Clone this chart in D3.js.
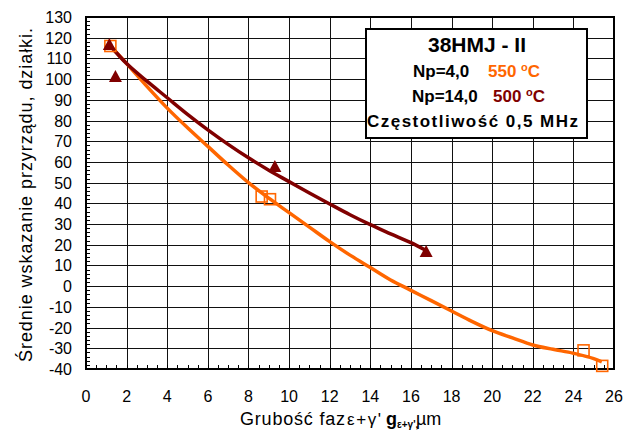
<!DOCTYPE html>
<html><head><meta charset="utf-8">
<script src="https://cdn.jsdelivr.net/npm/d3@7"></script>
<style>body{margin:0;background:#fff}svg{display:block}text{font-family:"Liberation Sans",Arial,sans-serif}</style>
</head><body>
<script>
// ---- data ----
const xTickLabels = ["0","2","4","6","8","10","12","14","16","18","20","22","24","26"];
const yTickLabels = ["130","120","110","100","90","80","70","60","50","40","30","20","10","0","-10","-20","-30","-40"];
const orangeLineX = [1.2,2,3,4,5,6,7,8,9,10,11,12,13,14,15,16,17,18,19,20,21,22,23,24,25,25.4];
const orangeLineY = [116,107.5,96.5,86,76.5,67.5,58.5,50,42.5,35.5,28.5,21.5,15,9,3,-2,-7,-12,-17,-21.5,-25,-28.4,-30.5,-32.4,-35,-36.5];
const redLineX = [1.2,2,3,4,5,6,7,8,9,10,11,12,13,14,15,16,16.7];
const redLineY = [116,107.5,99,91,83,75.5,68.5,62,56,50.5,45,39.7,34.5,29.7,25.3,21,17.5];
const squareX = [1.2,8.65,9.06,24.5,25.42];
const squareY = [116,43.3,42,-31,-38.5];
const triangleX = [1.15,1.45,9.3,16.75];
const triangleY = [116.5,101,57.5,16.5];
const ORANGE = "#FF6600", DARKRED = "#800000";

const W=626,H=432;
const svg=d3.select("body").append("svg").attr("width",W).attr("height",H);
const x=d3.scaleLinear().domain([0,26]).range([86,614]);
const y=d3.scaleLinear().domain([-40,130]).range([369,17]);

// grid
const g=svg.append("g");
g.selectAll(".vg").data(xTickLabels.map(Number)).enter().append("line")
 .attr("x1",d=>Math.round(x(d))+0.5).attr("x2",d=>Math.round(x(d))+0.5)
 .attr("y1",y(130)).attr("y2",y(-40)).attr("stroke","#111").attr("stroke-width",1);
g.selectAll(".hg").data(yTickLabels.map(Number)).enter().append("line")
 .attr("y1",d=>Math.round(y(d))+0.5).attr("y2",d=>Math.round(y(d))+0.5)
 .attr("x1",x(0)).attr("x2",x(26)).attr("stroke","#111").attr("stroke-width",1);

// minor ticks
g.selectAll(".ym").data(d3.range(-40,130.1,2)).enter().append("line")
 .attr("x1",x(0)).attr("x2",x(0)+4).attr("y1",d=>Math.round(y(d))+0.5).attr("y2",d=>Math.round(y(d))+0.5)
 .attr("stroke","#000");
g.selectAll(".xm").data(d3.range(0,26.01,0.5)).enter().append("line")
 .attr("y1",y(-40)).attr("y2",y(-40)-4).attr("x1",d=>Math.round(x(d))+0.5).attr("x2",d=>Math.round(x(d))+0.5)
 .attr("stroke","#000");

// frame
svg.append("rect").attr("x",x(0)).attr("y",y(130)).attr("width",x(26)-x(0)).attr("height",y(-40)-y(130))
 .attr("fill","none").attr("stroke","#000").attr("stroke-width",2);

// axis labels
svg.selectAll(".yl").data(yTickLabels).enter().append("text")
 .attr("x",72).attr("y",d=>y(+d)+6).attr("text-anchor","end").attr("font-size",16).text(d=>d);
svg.selectAll(".xl").data(xTickLabels).enter().append("text")
 .attr("x",d=>x(+d)).attr("y",402).attr("text-anchor","middle").attr("font-size",16).text(d=>d);

// lines
const line=d3.line().x(d=>x(d[0])).y(d=>y(d[1])).curve(d3.curveMonotoneX);
svg.append("path").datum(orangeLineX.map((v,i)=>[v,orangeLineY[i]])).attr("d",line)
 .attr("fill","none").attr("stroke",ORANGE).attr("stroke-width",3.5).attr("stroke-linejoin","round");
svg.append("path").datum(redLineX.map((v,i)=>[v,redLineY[i]])).attr("d",line)
 .attr("fill","none").attr("stroke",DARKRED).attr("stroke-width",3.5).attr("stroke-linejoin","round");

// squares
svg.selectAll(".sq").data(squareX.map((v,i)=>[v,squareY[i]])).enter().append("rect")
 .attr("x",d=>x(d[0])-5.5).attr("y",d=>y(d[1])-5.5).attr("width",11).attr("height",11)
 .attr("fill","none").attr("stroke",ORANGE).attr("stroke-width",1.6);
// triangles
svg.selectAll(".tr").data(triangleX.map((v,i)=>[v,triangleY[i]])).enter().append("path")
 .attr("d",d=>{const cx=x(d[0]),cy=y(d[1]);return `M${cx},${cy-7}L${cx+6.5},${cy+5}L${cx-6.5},${cy+5}Z`;})
 .attr("fill",DARKRED);

// legend box
svg.append("rect").attr("x",366).attr("y",29).attr("width",221).attr("height",109)
 .attr("fill","#fff").attr("stroke","#000").attr("stroke-width",2);
svg.append("text").attr("x",477).attr("y",52).attr("text-anchor","middle").attr("font-size",21)
 .attr("font-weight","bold").text("38HMJ - II");
function degLine(yb, lab, labX, temp, tX, col){
  svg.append("text").attr("x",labX).attr("y",yb).attr("font-size",17).attr("font-weight","bold").text(lab);
  const t=svg.append("text").attr("x",tX).attr("y",yb).attr("font-size",17).attr("font-weight","bold").attr("fill",col);
  t.append("tspan").text(temp+" ");
  t.append("tspan").attr("font-size",11).attr("dy",-6).text("o");
  t.append("tspan").attr("dy",6).text("C");
}
degLine(77,"Np=4,0",413,"550",488,ORANGE);
degLine(102,"Np=14,0",412,"500",493,DARKRED);
svg.append("text").attr("x",367).attr("y",127).attr("font-size",17).attr("font-weight","bold")
 .attr("textLength",211).attr("lengthAdjust","spacing").text("Częstotliwość 0,5 MHz");

// y title
svg.append("text").attr("transform","translate(32,195) rotate(-90)").attr("text-anchor","middle")
 .attr("font-size",18).attr("textLength",334).attr("lengthAdjust","spacing")
 .text("Średnie wskazanie przyrządu, działki.");

// x title
function xtPart(txt, px, len, opts){
  const t=svg.append("text").attr("x",px).attr("y",opts.y||425).attr("font-size",opts.fs||18).text(txt);
  if(len) t.attr("textLength",len).attr("lengthAdjust","spacing");
  if(opts.ff) t.attr("font-family",opts.ff);
  if(opts.fw) t.attr("font-weight",opts.fw);
  return t;
}
xtPart("Grubość faz",240,105,{});
xtPart("ε+γ'",347,34,{ff:"DejaVu Serif, serif",fs:17});
xtPart("g",386,null,{fw:"bold"});
xtPart("ε+γ',",397,null,{fw:"bold",fs:10,y:428});
xtPart("µm",416,null,{});
</script>
</body></html>
